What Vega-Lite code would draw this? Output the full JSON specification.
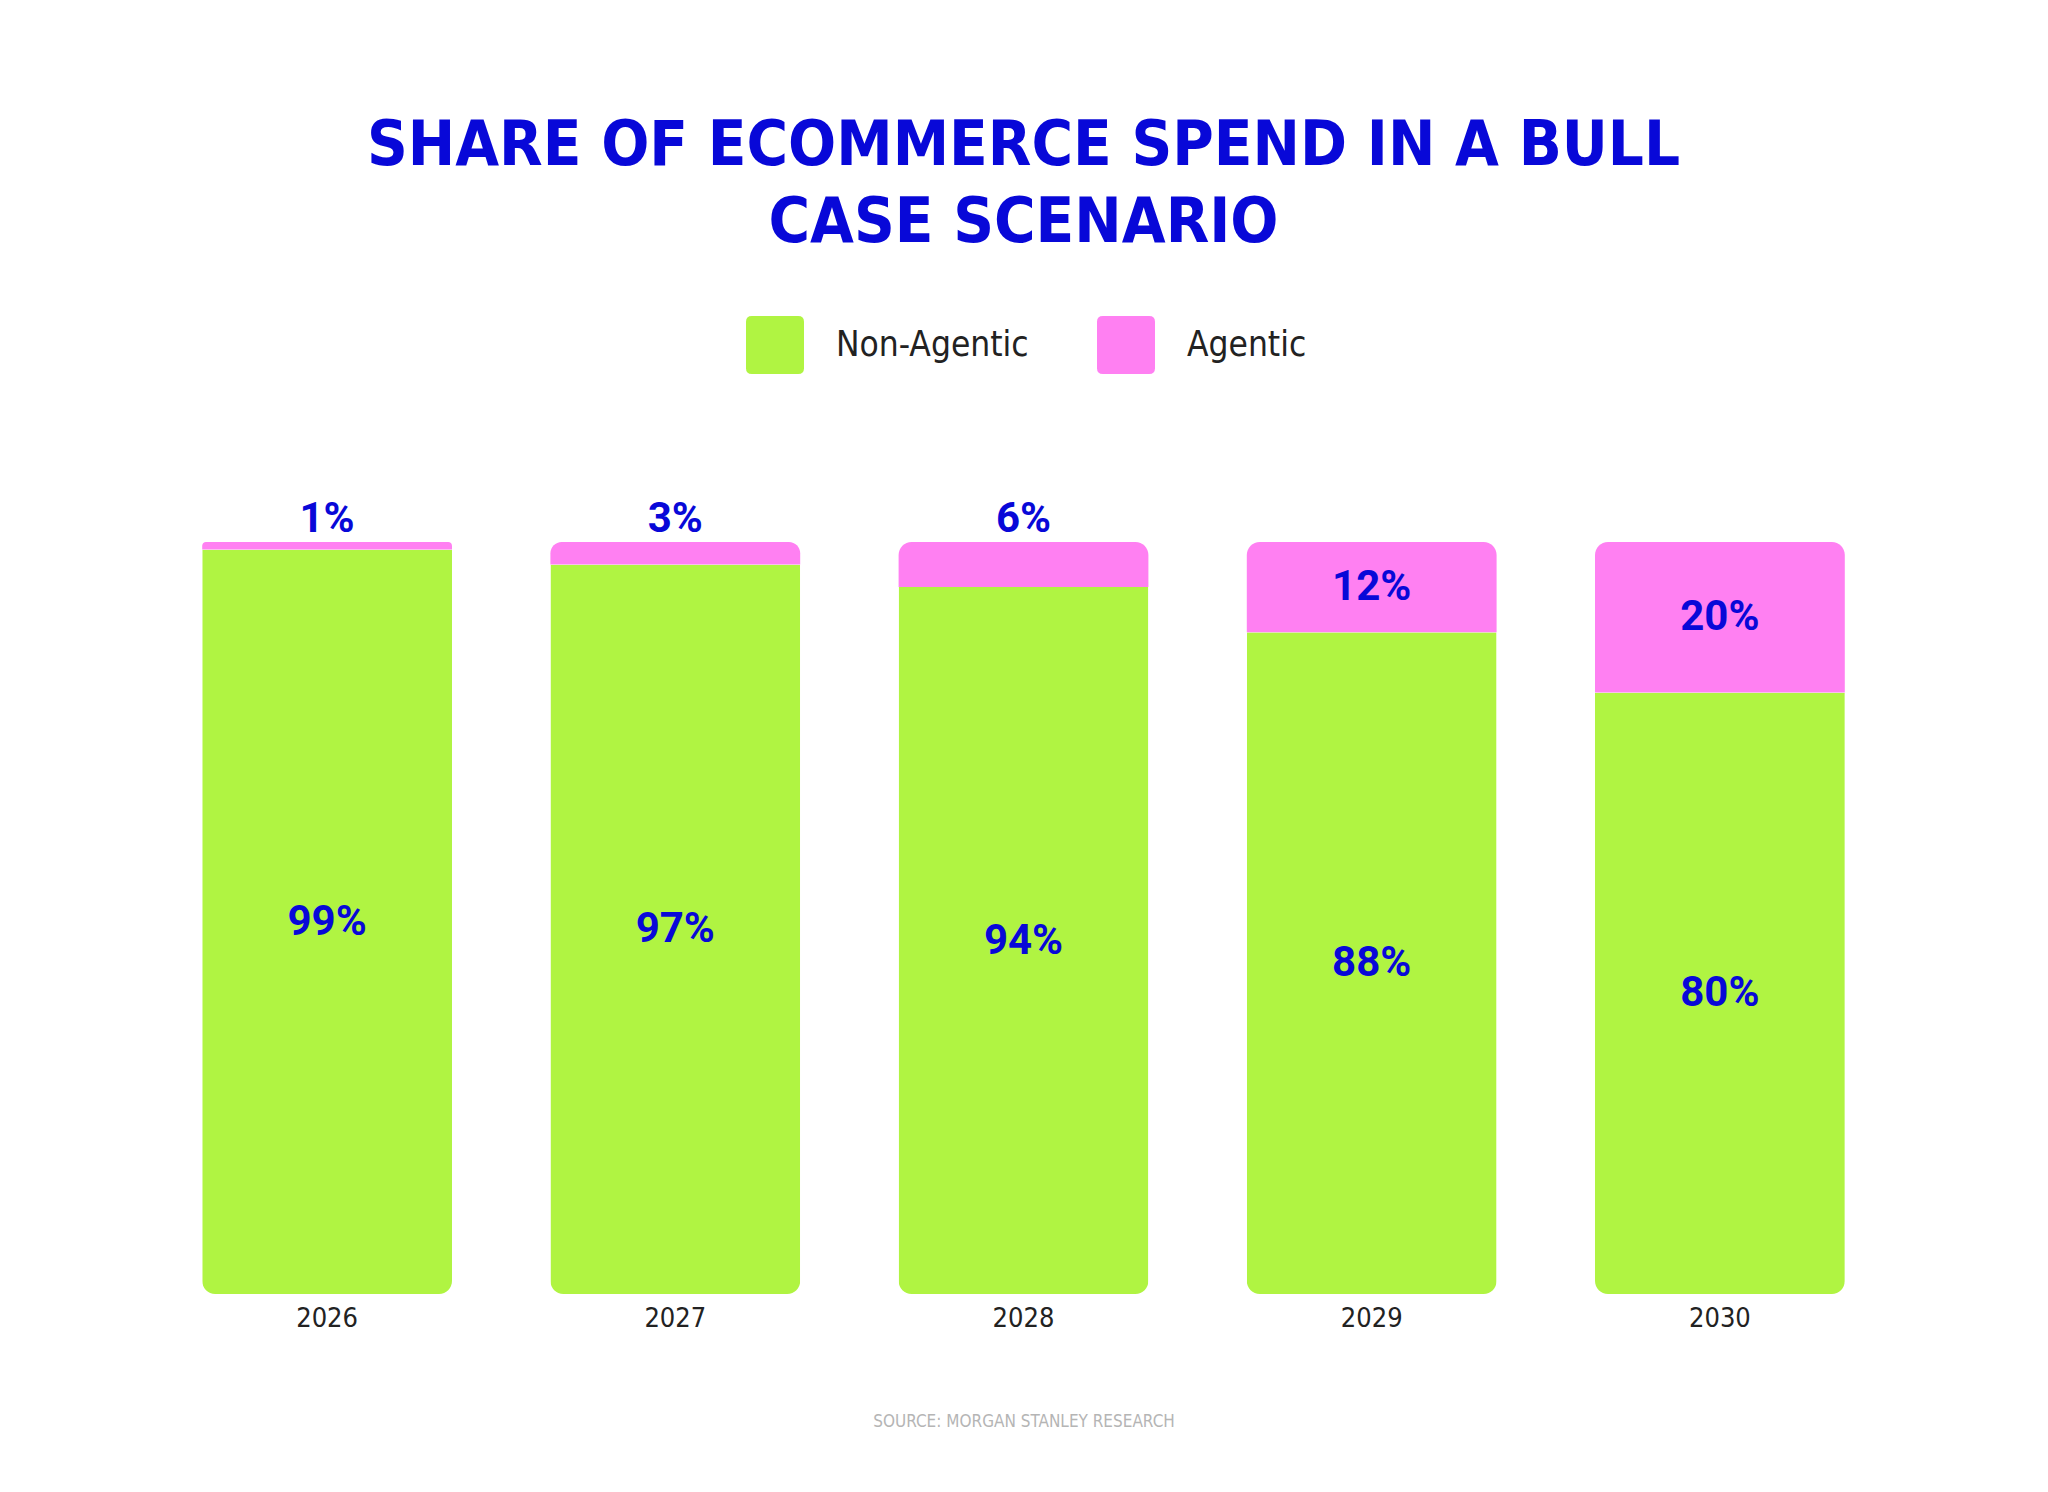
{
  "$schema": "https://vega.github.io/schema/vega-lite/v6.json",
  "width": 1741,
  "height": 752,
  "autosize": {"type": "none"},
  "padding": {"left": 153, "top": 542, "right": 154, "bottom": 198},
  "background": "#ffffff",
  "config": {"view": {"stroke": null}},
  "title": {
    "text": ["SHARE OF ECOMMERCE SPEND IN A BULL", "CASE SCENARIO"],
    "font": "'DejaVu Sans Condensed', sans-serif",
    "fontSize": 63,
    "fontWeight": 900,
    "lineHeight": 77,
    "color": "#0808D8",
    "anchor": "middle",
    "frame": "group",
    "offset": 61
  },
  "data": {
    "values": [
      {"year": "2026", "non": 0.99, "agentic": 0.01},
      {"year": "2027", "non": 0.97, "agentic": 0.03},
      {"year": "2028", "non": 0.94, "agentic": 0.06},
      {"year": "2029", "non": 0.88, "agentic": 0.12},
      {"year": "2030", "non": 0.80, "agentic": 0.20}
    ]
  },
  "encoding": {
    "x": {
      "field": "year",
      "type": "nominal",
      "scale": {"paddingInner": 0.2826, "paddingOuter": 0.1413},
      "axis": {
        "title": "SOURCE: MORGAN STANLEY RESEARCH",
        "titleFont": "'DejaVu Sans Condensed', sans-serif",
        "titleFontSize": 17,
        "titleFontWeight": "normal",
        "titleColor": "#b5b5b5",
        "titlePadding": 82,
        "labelFont": "'DejaVu Sans Condensed', sans-serif",
        "labelFontSize": 27,
        "labelFontWeight": "normal",
        "labelColor": "#222222",
        "labelPadding": 11,
        "labelAngle": 0,
        "domain": false,
        "ticks": false,
        "grid": false
      }
    }
  },
  "layer": [
    {
      "mark": {"type": "bar", "cornerRadiusBottomLeft": 13, "cornerRadiusBottomRight": 13},
      "encoding": {
        "y": {"field": "non", "type": "quantitative", "scale": {"domain": [0, 1]}, "axis": null},
        "color": {
          "datum": "Non-Agentic",
          "type": "nominal",
          "scale": {"domain": ["Non-Agentic", "Agentic"], "range": ["#B0F442", "#FF80F2"]},
          "legend": {
            "title": null,
            "orient": "none",
            "direction": "horizontal",
            "legendX": 593,
            "legendY": -226,
            "padding": 0,
            "symbolType": "M-0.8,-1L0.8,-1Q1,-1,1,-0.8L1,0.8Q1,1,0.8,1L-0.8,1Q-1,1,-1,0.8L-1,-0.8Q-1,-1,-0.8,-1Z",
            "symbolSize": 3364,
            "symbolStrokeWidth": 0,
            "symbolOpacity": 1,
            "labelFont": "'DejaVu Sans Condensed', sans-serif",
            "labelFontSize": 35,
            "labelColor": "#222222",
            "labelOffset": 32,
            "columnPadding": 68,
            "labelLimit": 400
          }
        }
      }
    },
    {
      "mark": {"type": "bar", "cornerRadiusTopLeft": 13, "cornerRadiusTopRight": 13},
      "encoding": {
        "y": {"field": "non", "type": "quantitative", "scale": {"domain": [0, 1]}, "axis": null},
        "y2": {"datum": 1},
        "color": {"datum": "Agentic", "type": "nominal"}
      }
    },
    {
      "mark": {"type": "text", "font": "Roboto", "fontWeight": "bold", "fontSize": 42, "color": "#0808D8", "baseline": "middle"},
      "encoding": {
        "y": {"field": "non", "type": "quantitative", "scale": {"domain": [0, 2]}, "axis": null},
        "text": {"field": "non", "type": "quantitative", "format": ".0%"}
      }
    },
    {
      "transform": [{"filter": "datum.agentic >= 0.1"}],
      "mark": {"type": "text", "font": "Roboto", "fontWeight": "bold", "fontSize": 42, "color": "#0808D8", "baseline": "middle"},
      "encoding": {
        "y": {"field": "agentic", "type": "quantitative", "scale": {"domain": [0, 2], "reverse": true}, "axis": null},
        "text": {"field": "agentic", "type": "quantitative", "format": ".0%"}
      }
    },
    {
      "transform": [{"filter": "datum.agentic < 0.1"}],
      "mark": {"type": "text", "font": "Roboto", "fontWeight": "bold", "fontSize": 42, "color": "#0808D8", "baseline": "alphabetic", "dy": -10},
      "encoding": {
        "y": {"datum": 1, "type": "quantitative", "scale": {"domain": [0, 1]}, "axis": null},
        "text": {"field": "agentic", "type": "quantitative", "format": ".0%"}
      }
    }
  ],
  "resolve": {"scale": {"y": "independent"}}
}
